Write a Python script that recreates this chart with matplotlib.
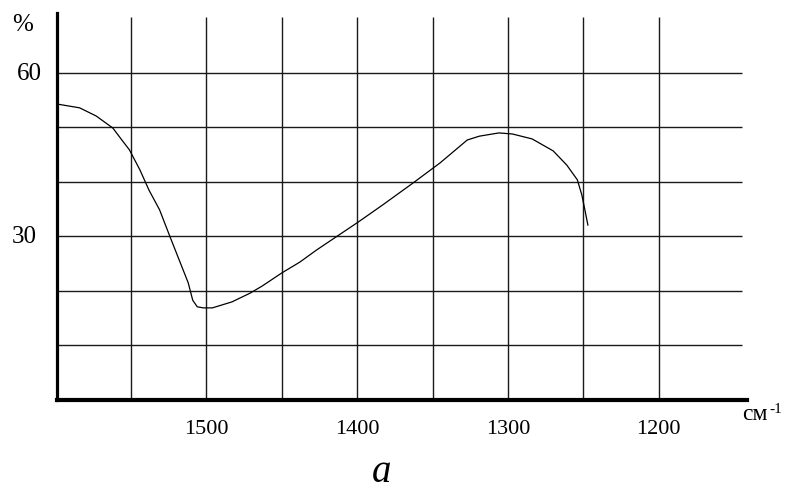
import matplotlib.pyplot as plt
from matplotlib.transforms import blended_transform_factory

plt.rcParams['font.family'] = ['Liberation Serif', 'DejaVu Serif']

# spectrum: wavenumber (cm-1) and transmission (%)
wavenumber = [1599, 1584, 1573, 1562, 1556, 1551, 1544, 1538, 1531, 1524,
              1518, 1512, 1509, 1506, 1502, 1496, 1483, 1471, 1463, 1450,
              1438, 1427, 1399, 1383, 1363, 1345, 1327, 1319, 1306, 1297,
              1284, 1270, 1261, 1254, 1251, 1249, 1247]
transmission = [54.3, 53.6, 52.1, 49.9, 47.7, 45.9, 42.2, 38.5, 34.9, 29.9,
                25.7, 21.5, 18.3, 17.1, 16.9, 16.9, 18.0, 19.6, 20.9, 23.3,
                25.3, 27.5, 32.7, 35.8, 39.8, 43.5, 47.7, 48.4, 49.0, 48.8,
                47.9, 45.7, 43.1, 40.4, 37.6, 34.9, 32.1]

grid_x = [1550, 1500, 1450, 1400, 1350, 1300, 1250, 1200]
grid_y = [10, 20, 30, 40, 50, 60]
xtick_vals = [1500, 1400, 1300, 1200]
ytick_vals = [30, 60]
ytick_xpos = [24, 29.5]   # label centres in pixels, they are not lined up

W, H = 787, 490


def px(x, y):
    return x / W, 1 - y / H


fig = plt.figure(figsize=(7.87, 4.90), dpi=100)
ax = fig.add_axes([57 / W, 90 / H, 690 / W, 387 / H])
ax.set_xlim(1599, 1141.5)
ax.set_ylim(0, 71)

# hand drawn grid
ax.vlines(grid_x, 0, 70.3, color='#1a1a1a', lw=1.0)
ax.hlines(grid_y, 1599, 1145, color='#1a1a1a', lw=1.0)

ax.plot(wavenumber, transmission, color='black', lw=0.9)

for s in ['top', 'right']:
    ax.spines[s].set_visible(False)
ax.spines['left'].set_linewidth(2.3)
ax.spines['bottom'].set_linewidth(3.0)
ax.set_xticks([])
ax.set_yticks([])

tx = blended_transform_factory(ax.transData, ax.transAxes)
for v in xtick_vals:
    ax.text(v, -34 / 387, str(v), transform=tx, ha='center', va='baseline', fontsize=16)
for v, xp in zip(ytick_vals, ytick_xpos):
    ty = blended_transform_factory(fig.transFigure, ax.transData)
    ax.text(xp / W, v - 1.25, str(v), transform=ty, ha='center', va='baseline', fontsize=18)

fig.text(*px(23, 31), '%', ha='center', va='baseline', fontsize=18)
fig.text(*px(742, 420), 'см', ha='left', va='baseline', fontsize=17)
fig.text(*px(769, 413), '-1', ha='left', va='baseline', fontsize=11)
fig.text(*px(382, 482), 'a', ha='center', va='baseline', fontsize=28, style='italic')

fig.savefig('out.png', dpi=100)
